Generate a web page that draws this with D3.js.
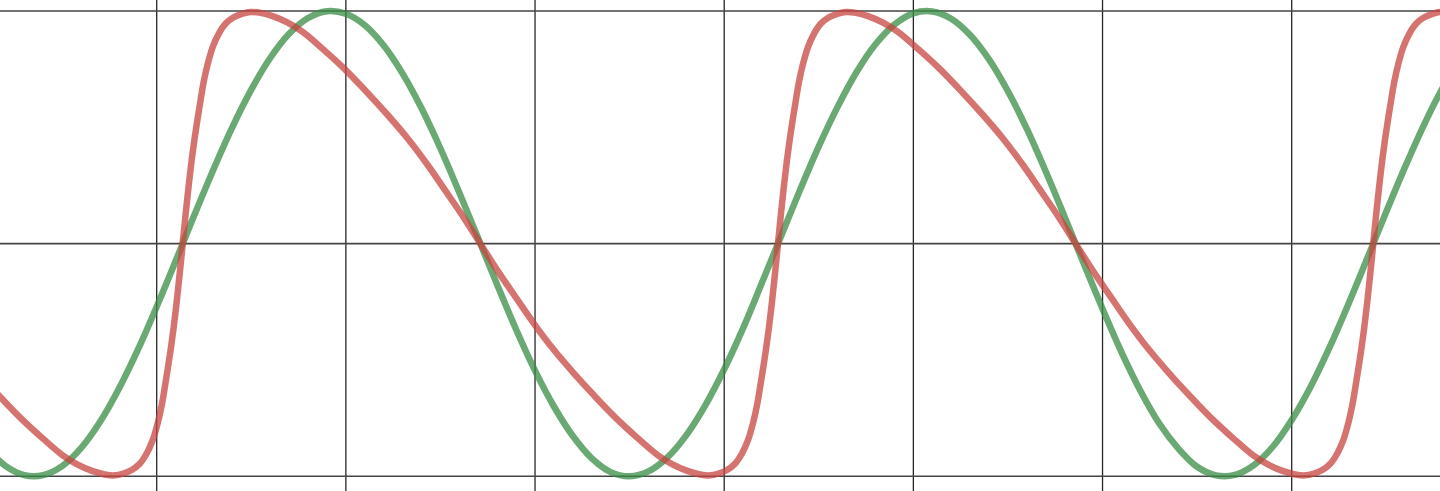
<!DOCTYPE html>
<html>
<head>
<meta charset="utf-8">
<script src="https://cdn.jsdelivr.net/npm/d3@7"></script>
<style>
  html, body { margin: 0; padding: 0; background: #fff; overflow: hidden; }
  svg { display: block; }
</style>
</head>
<body>
<div class="graphic"></div>
<script>
// grid positions
const xTicks = [1, 2, 3, 4, 5, 6, 7];
const yTicks = [-1, 0, 1];

// green curve
const greenX = [0.1, 0.2, 0.3, 0.4, 0.5, 0.6, 0.7, 0.8, 0.9, 1.0, 1.1, 1.2, 1.3, 1.4, 1.5, 1.6, 1.7, 1.8, 1.9,
  2.0, 2.1, 2.2, 2.3, 2.4, 2.5, 2.6, 2.7, 2.8, 2.9, 3.0, 3.1, 3.2, 3.3, 3.4, 3.5, 3.6, 3.7, 3.8, 3.9,
  4.0, 4.1, 4.2, 4.3, 4.4, 4.5, 4.6, 4.7, 4.8, 4.9, 5.0, 5.1, 5.2, 5.3, 5.4, 5.5, 5.6, 5.7, 5.8, 5.9,
  6.0, 6.1, 6.2, 6.3, 6.4, 6.5, 6.6, 6.7, 6.8, 6.9, 7.0, 7.1, 7.2, 7.3, 7.4, 7.5, 7.6, 7.7, 7.8, 7.9];
const greenY = [-0.878, -0.955, -0.995, -0.995, -0.956, -0.879, -0.767, -0.624, -0.457, -0.271, -0.075, 0.125, 0.319, 0.501, 0.662, 0.798, 0.902, 0.970, 0.999,
  0.988, 0.939, 0.852, 0.731, 0.582, 0.409, 0.219, 0.022, -0.177, -0.369, -0.546, -0.700, -0.827, -0.923, -0.982, -1.000, -0.979, -0.919, -0.823, -0.695,
  -0.540, -0.363, -0.167, 0.031, 0.229, 0.418, 0.589, 0.738, 0.857, 0.942, 0.990, 0.998, 0.967, 0.897, 0.792, 0.655, 0.493, 0.310, 0.115, -0.084,
  -0.280, -0.466, -0.632, -0.773, -0.880, -0.959, -0.996, -0.994, -0.952, -0.873, -0.758, -0.615, -0.446, -0.259, -0.062, 0.137, 0.331, 0.512, 0.672, 0.805];

// red curve (denser where it climbs)
const redX = [-0.052, 0.0537, 0.1647, 0.2810, 0.3973, 0.5031, 0.5823, 0.6616, 0.7251, 0.7779, 0.8202, 0.8678, 0.9101, 0.9471, 0.9788,
  1.0052, 1.0264, 1.0422, 1.0581, 1.0740, 1.0898, 1.1057, 1.1215, 1.1374, 1.1533, 1.1691, 1.1850, 1.2008, 1.2167, 1.2326, 1.2484,
  1.2696, 1.2960, 1.3277, 1.3647, 1.4070, 1.4546, 1.4969, 1.5497, 1.6132, 1.6925, 1.7717, 1.8775, 1.9938, 2.1101, 2.2211, 2.3268,
  2.4325, 2.5224, 2.6175, 2.7108,
  2.8042, 2.8993, 2.9892, 3.0949, 3.2006, 3.3116, 3.4279, 3.5442, 3.6500, 3.7292, 3.8085, 3.8720, 3.9248, 3.9671, 4.0147, 4.0570,
  4.0940, 4.1257, 4.1521, 4.1733, 4.1891, 4.2050, 4.2209, 4.2367, 4.2526, 4.2684, 4.2843, 4.3002, 4.3160, 4.3319, 4.3477, 4.3636,
  4.3795, 4.3953, 4.4165, 4.4429, 4.4746, 4.5116, 4.5539, 4.6015, 4.6438, 4.6966, 4.7601, 4.8394, 4.9186, 5.0244, 5.1407, 5.2570,
  5.3680, 5.4737, 5.5794, 5.6693, 5.7644, 5.8577,
  5.9511, 6.0462, 6.1361, 6.2418, 6.3475, 6.4585, 6.5748, 6.6911, 6.7969, 6.8761, 6.9554, 7.0189, 7.0717, 7.1140, 7.1616, 7.2039,
  7.2409, 7.2726, 7.2990, 7.3202, 7.3360, 7.3519, 7.3678, 7.3836, 7.3995, 7.4153, 7.4312, 7.4471, 7.4629, 7.4788, 7.4946, 7.5105,
  7.5264, 7.5422, 7.5634, 7.5898, 7.6215, 7.6585, 7.7008, 7.7484, 7.7907, 7.8435, 7.9070];
const redY = [-0.452, -0.553, -0.652, -0.75, -0.837, -0.91, -0.95, -0.978, -0.992, -0.996, -0.989, -0.973, -0.946, -0.902, -0.845,
  -0.772, -0.695, -0.62, -0.54, -0.455, -0.36, -0.25, -0.13, 0, 0.13, 0.25, 0.36, 0.455, 0.54, 0.62, 0.695,
  0.772, 0.845, 0.902, 0.946, 0.973, 0.989, 0.996, 0.992, 0.978, 0.95, 0.91, 0.837, 0.75, 0.652, 0.553, 0.452,
  0.338, 0.232, 0.119, 0,
  -0.119, -0.232, -0.338, -0.452, -0.553, -0.652, -0.75, -0.837, -0.91, -0.95, -0.978, -0.992, -0.996, -0.989, -0.973, -0.946,
  -0.902, -0.845, -0.772, -0.695, -0.62, -0.54, -0.455, -0.36, -0.25, -0.13, 0, 0.13, 0.25, 0.36, 0.455, 0.54,
  0.62, 0.695, 0.772, 0.845, 0.902, 0.946, 0.973, 0.989, 0.996, 0.992, 0.978, 0.95, 0.91, 0.837, 0.75, 0.652,
  0.553, 0.452, 0.338, 0.232, 0.119, 0,
  -0.119, -0.232, -0.338, -0.452, -0.553, -0.652, -0.75, -0.837, -0.91, -0.95, -0.978, -0.992, -0.996, -0.989, -0.973, -0.946,
  -0.902, -0.845, -0.772, -0.695, -0.62, -0.54, -0.455, -0.36, -0.25, -0.13, 0, 0.13, 0.25, 0.36, 0.455, 0.54,
  0.62, 0.695, 0.772, 0.845, 0.902, 0.946, 0.973, 0.989, 0.996, 0.992, 0.978];

const width = 1440;
const height = 491;

const x = d3.scaleLinear().domain([1, 7]).range([156.7, 1291.7]);
const y = d3.scaleLinear().domain([-1, 1]).range([476.3, 11]);

const svg = d3
  .select('.graphic')
  .append('svg')
  .attr('width', width)
  .attr('height', height);

svg.append('rect')
  .attr('width', width)
  .attr('height', height)
  .attr('fill', '#fff');

// grid
svg.selectAll('line.vgrid')
  .data(xTicks)
  .enter()
  .append('line')
  .attr('class', 'vgrid')
  .attr('x1', d => x(d))
  .attr('x2', d => x(d))
  .attr('y1', 0)
  .attr('y2', height)
  .attr('stroke', '#262626')
  .attr('stroke-width', 1.3);

svg.selectAll('line.hgrid')
  .data(yTicks)
  .enter()
  .append('line')
  .attr('class', 'hgrid')
  .attr('x1', 0)
  .attr('x2', width)
  .attr('y1', d => y(d))
  .attr('y2', d => y(d))
  .attr('stroke', '#454545')
  .attr('stroke-width', 1.6);

const line = d3.line()
  .x(d => x(d[0]))
  .y(d => y(d[1]))
  .curve(d3.curveCatmullRom.alpha(0.5));

const greenPts = greenX.map((v, i) => [v, greenY[i]]);
const redPts = redX.map((v, i) => [v, redY[i]]);

svg.append('path')
  .datum(greenPts)
  .attr('d', line)
  .attr('fill', 'none')
  .attr('stroke', '#388c46')
  .attr('stroke-opacity', 0.75)
  .attr('stroke-width', 6.5)
  .attr('stroke-linecap', 'round')
  .attr('stroke-linejoin', 'round');

svg.append('path')
  .datum(redPts)
  .attr('d', line)
  .attr('fill', 'none')
  .attr('stroke', '#c74440')
  .attr('stroke-opacity', 0.75)
  .attr('stroke-width', 6.5)
  .attr('stroke-linecap', 'round')
  .attr('stroke-linejoin', 'round');
</script>
</body>
</html>
